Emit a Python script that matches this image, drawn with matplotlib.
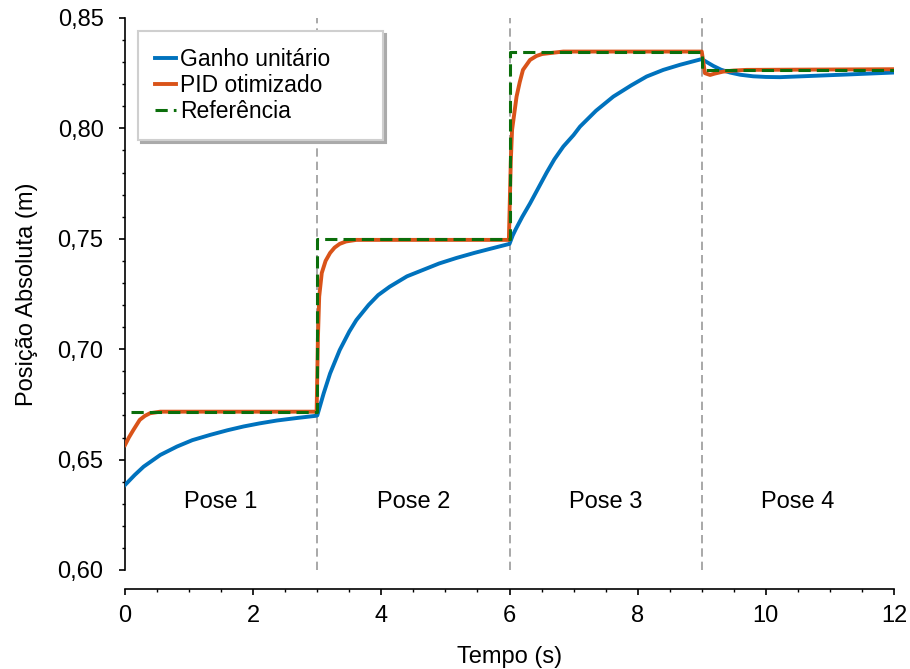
import matplotlib
matplotlib.use("Agg")
import matplotlib.pyplot as plt

plt.rcParams['font.family'] = ['Liberation Sans', 'DejaVu Sans']

# Ganho unitario (blue)
t_ganho = [0, 0.15, 0.29, 0.55, 0.81, 1.05, 1.33, 1.6, 1.85, 2.1, 2.37, 2.7, 2.97, 3.0,
           3.05, 3.1, 3.2, 3.35, 3.5, 3.61, 3.8, 3.95, 4.13, 4.4, 4.65, 4.9, 5.17, 5.45,
           5.69, 6.0,
           6.05, 6.1, 6.2, 6.32, 6.45, 6.58, 6.7, 6.84, 7.0, 7.1, 7.35, 7.62, 7.9, 8.14,
           8.4, 8.66, 9.0,
           9.08, 9.18, 9.3, 9.44, 9.6, 9.8, 10.0, 10.22, 10.74, 11.26, 12.0]
y_ganho = [0.6385, 0.643, 0.6468, 0.6521, 0.6559, 0.6588, 0.6612, 0.6633, 0.665, 0.6664,
           0.6677, 0.6689, 0.6698, 0.670,
           0.675, 0.680, 0.689, 0.6996, 0.708, 0.7132, 0.720, 0.7245, 0.7283, 0.733,
           0.7359, 0.7388, 0.7413, 0.7436, 0.7454, 0.7477,
           0.7515, 0.7545, 0.760, 0.766, 0.773, 0.780, 0.786, 0.7918, 0.797, 0.8008,
           0.808, 0.8144, 0.8195, 0.8235, 0.8265, 0.8288, 0.8314,
           0.830, 0.8283, 0.8266, 0.8253, 0.8243, 0.8236, 0.8233, 0.8232, 0.8238,
           0.8244, 0.8253]

# PID otimizado (orange)
t_pid = [0, 0.06, 0.13, 0.23, 0.31, 0.39, 0.55, 2.99, 3.01, 3.03, 3.07, 3.13, 3.2, 3.27,
         3.35, 3.45, 3.61, 5.99, 6.02, 6.04, 6.11, 6.16, 6.21, 6.32, 6.42, 6.51, 6.84,
         9.0, 9.05, 9.13, 9.2, 9.33, 9.5, 9.7, 12.0]
y_pid = [0.6566, 0.660, 0.6634, 0.668, 0.6698, 0.671, 0.6717, 0.6717, 0.705, 0.7238,
         0.7345, 0.740, 0.7436, 0.746, 0.7477, 0.7488, 0.7495, 0.7495, 0.785, 0.7993,
         0.8144, 0.821, 0.8265, 0.831, 0.8328, 0.8337, 0.8348, 0.8348, 0.825, 0.8242,
         0.8248, 0.8257, 0.8262, 0.8265, 0.8268]

# Referencia (green steps)
t_ref = [0.1, 3, 3, 6, 6, 9, 9, 12]
y_ref = [0.6717, 0.6717, 0.7497, 0.7497, 0.8348, 0.8348, 0.8265, 0.8265]

pose_times = [3, 6, 9]
pose_labels = ['Pose 1', 'Pose 2', 'Pose 3', 'Pose 4']
pose_centers = [1.5, 4.5, 7.5, 10.5]

y_ticks = [0.60, 0.65, 0.70, 0.75, 0.80, 0.85]
y_ticklabels = ['0,60', '0,65', '0,70', '0,75', '0,80', '0,85']
x_ticks = [0, 2, 4, 6, 8, 10, 12]

fig = plt.figure(figsize=(9.1, 6.69), dpi=100)
ax = fig.add_axes([0.1374, 0.148, 0.845, 0.8251])

for t in pose_times:
    ax.axvline(t, color='#999999', lw=1.2, ls=(0, (5, 3)), zorder=1)

ax.plot(t_ganho, y_ganho, color='#0072BD', lw=2.8, label='Ganho unitário', zorder=3)
ax.plot(t_pid, y_pid, color='#D95319', lw=2.8, label='PID otimizado', zorder=4)
ax.plot(t_ref, y_ref, color='#0B6E0B', lw=2.2, ls=(0, (4, 2)), label='Referência', zorder=5)

for xc, lab in zip(pose_centers, pose_labels):
    ax.text(xc, 0.6308, lab, ha='center', va='center', fontsize=17)

ax.set_xlim(0, 12)
ax.set_ylim(0.60, 0.85)
ax.set_xticks(x_ticks)
ax.set_xticklabels([str(v) for v in x_ticks])
ax.set_yticks(y_ticks)
ax.set_yticklabels(y_ticklabels)
ax.set_xticks([i * 0.5 for i in range(25)], minor=True)
ax.set_yticks([0.60 + i * 0.01 for i in range(26)], minor=True)

ax.spines['top'].set_visible(False)
ax.spines['right'].set_visible(False)
ax.spines['bottom'].set_position(('outward', 13.7))
for s in ['left', 'bottom']:
    ax.spines[s].set_linewidth(1.2)

ax.tick_params(which='major', length=4.5, width=1.2, labelsize=17)
ax.tick_params(axis='y', which='major', pad=11)
ax.tick_params(axis='x', which='major', pad=7)
ax.tick_params(which='minor', length=2.5, width=1.0)

ax.set_xlabel('Tempo (s)', fontsize=17, labelpad=14)
ax.set_ylabel('Posição Absoluta (m)', fontsize=17, labelpad=14)

leg = ax.legend(loc='upper left', bbox_to_anchor=(0.0169, 0.7826, 0.3186, 0.1938),
                mode='expand', fontsize=16.5, handlelength=0.9, handletextpad=0.2,
                labelspacing=0.12, borderpad=0.75, borderaxespad=0, fancybox=False,
                shadow={'color': '#aaaaaa', 'alpha': 1})
leg.get_frame().set_edgecolor('#cfcfcf')
leg.get_frame().set_linewidth(1.5)

fig.savefig('out.png', dpi=100)
